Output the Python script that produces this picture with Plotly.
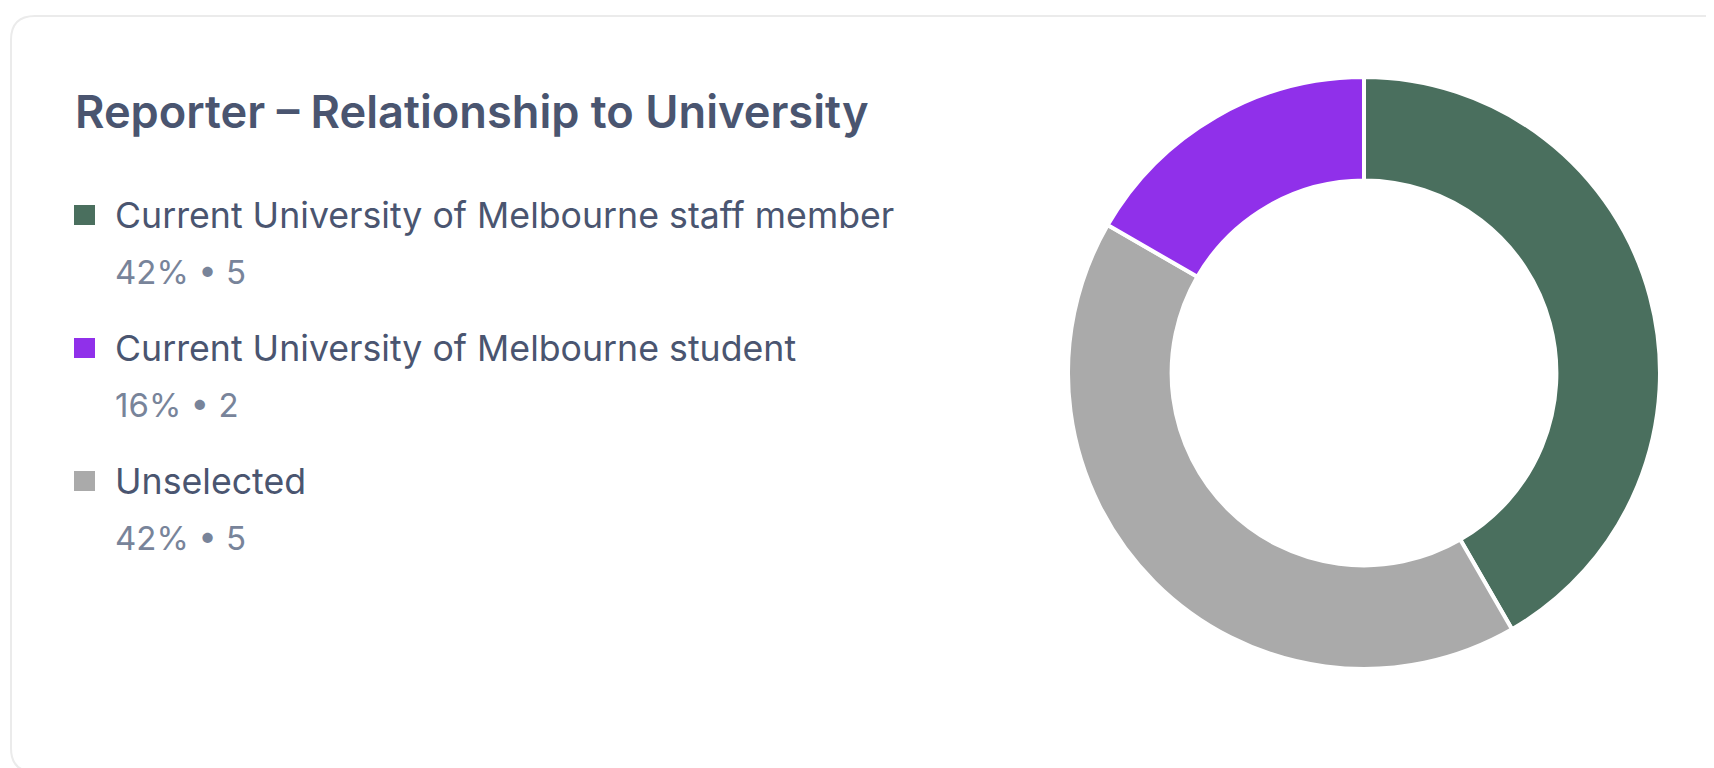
import plotly.graph_objects as go

W, H = 1714, 768
PAGE_MARGIN = 8  # default body margin around the plot div

# data
title_text = "Reporter – Relationship to University"
categories = [
    "Current University of Melbourne staff member",
    "Current University of Melbourne student",
    "Unselected",
]
counts = [5, 2, 5]
pct_labels = ["42%", "16%", "42%"]
colors = ["#4a6f5e", "#9030ea", "#aaaaaa"]
# clockwise order of the slices from 12 o'clock
slice_order = [0, 2, 1]

FONT = "Inter, 'Noto Sans', sans-serif"
TITLE_COLOR = "#4a5570"
LABEL_COLOR = "#4a5570"
SUB_COLOR = "#78849a"


def px_x(x):
    return (x - PAGE_MARGIN) / W


def px_y(y):
    return 1 - (y - PAGE_MARGIN) / H


fig = go.Figure()

# donut
cx, cy, r = 1364, 373, 296
fig.add_trace(
    go.Pie(
        labels=[categories[i] for i in slice_order],
        values=[counts[i] for i in slice_order],
        marker=dict(colors=[colors[i] for i in slice_order], line=dict(color="white", width=4)),
        hole=0.65,
        sort=False,
        direction="clockwise",
        rotation=0,
        textinfo="none",
        showlegend=False,
        hovertemplate="%{label}<br>%{value}<extra></extra>",
        domain=dict(
            x=[px_x(cx - r), px_x(cx + r)],
            y=[px_y(cy + r), px_y(cy - r)],
        ),
    )
)

# card outline (runs off the right and bottom edges)
x0, y0, x1, y1, rad = 11, 16, 1740, 772, 24
pts = (
    f"M {px_x(x1)},{px_y(y0)} "
    f"L {px_x(x0 + rad)},{px_y(y0)} "
    f"Q {px_x(x0)},{px_y(y0)} {px_x(x0)},{px_y(y0 + rad)} "
    f"L {px_x(x0)},{px_y(y1 - rad)} "
    f"Q {px_x(x0)},{px_y(y1)} {px_x(x0 + rad)},{px_y(y1)} "
    f"L {px_x(x1)},{px_y(y1)}"
)
fig.add_shape(type="path", xref="paper", yref="paper", path=pts,
              line=dict(color="#ebebeb", width=2), layer="below")

# title
fig.add_annotation(
    xref="paper", yref="paper", x=px_x(73), y=px_y(112),
    xanchor="left", yanchor="middle", showarrow=False,
    text=title_text,
    font=dict(family=FONT, size=45.2, color=TITLE_COLOR, weight=600),
)

# legend
row_y = [215, 348, 481]
for i, cat in enumerate(categories):
    yy = row_y[i]
    fig.add_shape(
        type="rect", xref="paper", yref="paper",
        x0=px_x(74), x1=px_x(95), y0=px_y(yy - 10), y1=px_y(yy + 10),
        fillcolor=colors[i], line=dict(width=0),
    )
    fig.add_annotation(
        xref="paper", yref="paper", x=px_x(113), y=px_y(yy),
        xanchor="left", yanchor="middle", showarrow=False,
        text=cat,
        font=dict(family=FONT, size=35.7, color=LABEL_COLOR),
    )
    fig.add_annotation(
        xref="paper", yref="paper", x=px_x(113), y=px_y(yy + 57),
        xanchor="left", yanchor="middle", showarrow=False,
        text=f"{pct_labels[i]} • {counts[i]}",
        font=dict(family=FONT, size=33, color=SUB_COLOR),
    )

fig.update_layout(
    width=W,
    height=H,
    margin=dict(l=0, r=0, t=0, b=0),
    paper_bgcolor="white",
    plot_bgcolor="white",
)

fig.write_html("out.html")
